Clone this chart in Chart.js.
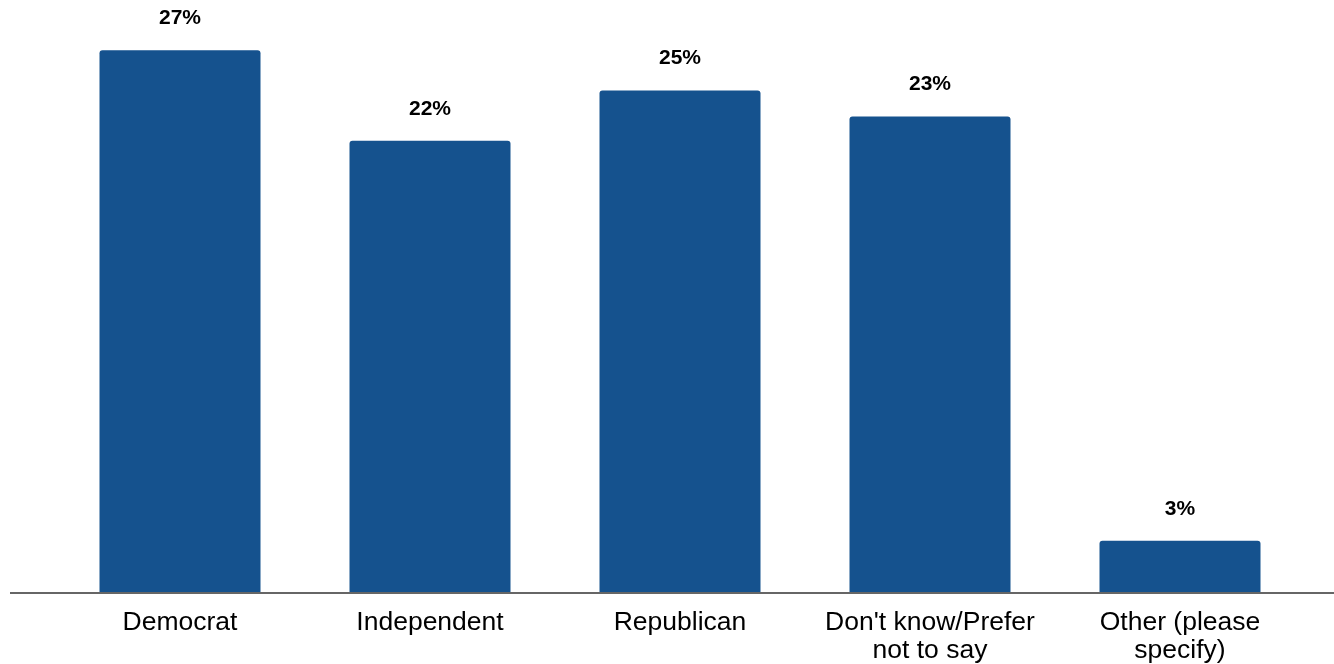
<!DOCTYPE html>
<html>
<head>
<meta charset="utf-8">
<script src="https://cdn.jsdelivr.net/npm/chart.js@4/dist/chart.umd.min.js"></script>
<style>
  html, body { margin:0; padding:0; background:#fff; }
  #wrap { width:1334px; height:664px; position:relative; }
</style>
</head>
<body>
<div id="wrap"><canvas id="c"></canvas></div>
<script>
const CATEGORIES = ['Democrat', 'Independent', 'Republican', ["Don't know/Prefer", 'not to say'], ['Other (please', 'specify)']];
const VALUES = [27.0, 22.5, 25.0, 23.7, 2.6];
const VALUE_LABELS = ['27%', '22%', '25%', '23%', '3%'];

const BAR_COLOR = '#15528e';
const FONT = '"Liberation Sans", Arial, Helvetica, sans-serif';

// value labels above bars
const topLabels = {
  id: 'topLabels',
  afterDatasetsDraw(chart) {
    const ctx = chart.ctx;
    const meta = chart.getDatasetMeta(0);
    ctx.save();
    ctx.font = 'bold 21px ' + FONT;
    ctx.fillStyle = '#000';
    ctx.textAlign = 'center';
    ctx.textBaseline = 'middle';
    meta.data.forEach((bar, i) => {
      ctx.fillText(VALUE_LABELS[i], bar.x, bar.y - 32);
    });
    ctx.restore();
  }
};

// baseline spanning nearly full width
const baseLine = {
  id: 'baseLine',
  afterDatasetsDraw(chart) {
    const ctx = chart.ctx;
    const y = chart.scales.y.getPixelForValue(0);
    ctx.save();
    ctx.strokeStyle = '#666';
    ctx.lineWidth = 2;
    ctx.beginPath();
    ctx.moveTo(10, y);
    ctx.lineTo(chart.width, y);
    ctx.stroke();
    ctx.restore();
  }
};

new Chart(document.getElementById('c'), {
  type: 'bar',
  data: {
    labels: CATEGORIES,
    datasets: [{
      data: VALUES,
      backgroundColor: BAR_COLOR,
      borderRadius: { topLeft: 3, topRight: 3 },
      borderSkipped: 'bottom',
      categoryPercentage: 1,
      barPercentage: 0.644
    }]
  },
  options: {
    responsive: true, maintainAspectRatio: false, animation: false,
    layout: { padding: { left: 55, right: 29, top: 0, bottom: 0 } },
    plugins: { legend: { display: false }, tooltip: { enabled: false } },
    scales: {
      x: {
        grid: { display: false },
        border: { display: false },
        afterFit(scale) { scale.height = 71; },
        ticks: { color: '#000', font: { family: FONT, size: 26.5, lineHeight: 1.06 }, padding: 8, maxRotation: 0, autoSkip: false }
      },
      y: {
        display: false,
        min: 0, max: 29.5
      }
    }
  },
  plugins: [topLabels, baseLine]
});
</script>
</body>
</html>
